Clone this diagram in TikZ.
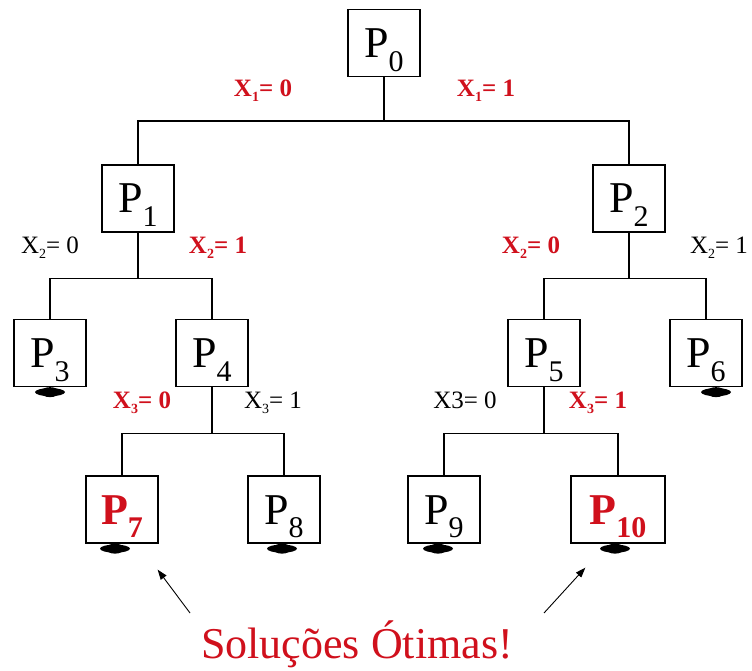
\documentclass[tikz,border=0pt]{standalone}
\usepackage{fontspec}
\setmainfont{Liberation Serif}
\usetikzlibrary{calc,arrows.meta}
\definecolor{solred}{HTML}{D0101C}

\newcommand\pname[1]{P\raisebox{-0.31em}{\fontsize{30}{30}\selectfont #1}}
\newcommand\xeq[2]{X\raisebox{-0.2em}{\fontsize{14}{14}\selectfont #1}= #2}

\begin{document}
\begin{tikzpicture}[
  x=1pt, y=-1pt,
  >={Triangle[length=10pt,width=7pt]},
  prob/.style={draw, line width=1.3pt, fill=white, minimum width=72pt, minimum height=67pt,
    inner sep=0pt, text height=29pt, text depth=0pt, font=\fontsize{44}{44}\selectfont},
  best/.style={prob, text=solred, font=\fontsize{44}{44}\selectfont\bfseries},
  edge/.style={line width=1.3pt},
  lbl/.style={font=\fontsize{25}{25}\selectfont, inner sep=1pt, anchor=base},
  redlbl/.style={lbl, text=solred, font=\fontsize{25}{25}\selectfont\bfseries},
  arr/.style={->, line width=0.9pt},
]
% rows of the tree; y grows downwards (pixel grid of 752 x 671)
\def\rowa{43}
\def\rowb{198.5}
\def\rowc{353}
\def\rowd{509.5}

\fill[white] (0,0) rectangle (752,671);
\useasboundingbox (0,0) rectangle (752,671);

% --- Subproblems ------------------------------------------------------------
\node[prob] (p0) at (384, \rowa) {\pname{0}};
\node[prob] (p1) at (138, \rowb) {\pname{1}};
\node[prob] (p2) at (629, \rowb) {\pname{2}};
\node[prob] (p3) at (50, \rowc) {\pname{3}};
\node[prob] (p4) at (212, \rowc) {\pname{4}};
\node[prob] (p5) at (544, \rowc) {\pname{5}};
\node[prob] (p6) at (706, \rowc) {\pname{6}};
\node[best] (p7) at (122, \rowd) {\pname{7}};
\node[prob] (p8) at (284, \rowd) {\pname{8}};
\node[prob] (p9) at (444, \rowd) {\pname{9}};
\node[best, minimum width=94pt] (p10) at (618, \rowd) {\pname{10}};

% --- Branches: stem down to a bus, then down to each child ------------------
\path (p0.south) ++(0,44) coordinate (b0);
\path (p1.south) ++(0,46) coordinate (b1);
\path (p2.south) ++(0,46) coordinate (b2);
\path (p4.south) ++(0,46) coordinate (b4);
\path (p5.south) ++(0,46) coordinate (b5);
\draw[edge] (p0.south) -- (b0);
\draw[edge] (p1.north) |- (b0) -| (p2.north);
\draw[edge] (p1.south) -- (b1);
\draw[edge] (p3.north) |- (b1) -| (p4.north);
\draw[edge] (p2.south) -- (b2);
\draw[edge] (p5.north) |- (b2) -| (p6.north);
\draw[edge] (p4.south) -- (b4);
\draw[edge] (p7.north) |- (b4) -| (p8.north);
\draw[edge] (p5.south) -- (b5);
\draw[edge] (p9.north) |- (b5) -| (p10.north);

% --- Branch labels ------------------------------------------------------------
\node[redlbl] (x1a) at (263, 97) {\xeq{1}{0}};
\node[redlbl] (x1b) at (486, 97) {\xeq{1}{1}};
\node[lbl] (x2a) at (50, 253) {\xeq{2}{0}};
\node[redlbl] (x2b) at (218, 253) {\xeq{2}{1}};
\node[redlbl] (x2c) at (531, 253) {\xeq{2}{0}};
\node[lbl] (x2d) at (719, 253) {\xeq{2}{1}};
\node[redlbl] (x3a) at (142, 408) {\xeq{3}{0}};
\node[lbl] (x3b) at (273, 408) {\xeq{3}{1}};
\node[lbl] (x3c) at (465, 408) {X3= 0};
\node[redlbl] (x3d) at (598, 408) {\xeq{3}{1}};

% --- Marks under the leaves -------------------------------------------------
\foreach \n/\dx in {p3/0, p6/10, p7/-7, p8/-2, p9/-6, p10/-3} {
  \fill ($(\n.south)+(\dx,5)$) ellipse [x radius=15pt, y radius=4pt];
  \fill ($(\n.south)+(\dx,5)$) ellipse [x radius=9pt, y radius=5pt];
}

% --- Optimal solutions --------------------------------------------------------
\node[font=\fontsize{44}{44}\selectfont, text=solred, anchor=base, inner sep=0pt]
  (sol) at (357, 658) {Soluções Ótimas!};
\coordinate (taill) at (190, 613);
\coordinate (tailr) at (544, 613);
\path (p7.south east) ++(-1,26) coordinate (tipl);
\path (p10.south west) ++(15,24) coordinate (tipr);
\draw[arr] (taill) -- (tipl);
\draw[arr] (tailr) -- (tipr);

\end{tikzpicture}
\end{document}
